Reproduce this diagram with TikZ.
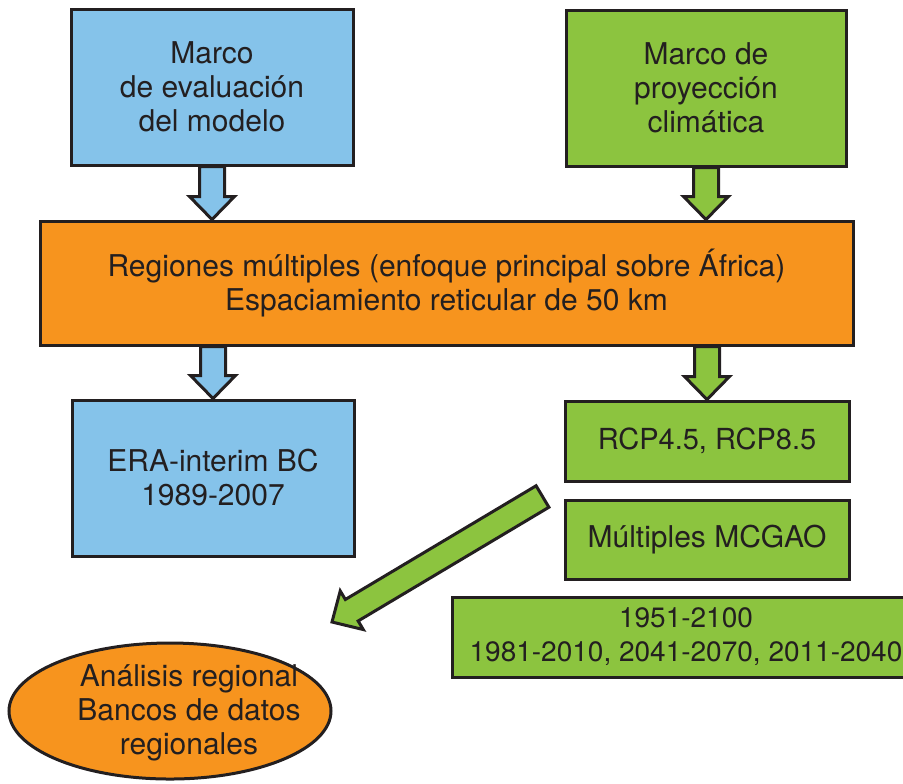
\documentclass[tikz,border=0pt]{standalone}
\usepackage{fontspec}
\setmainfont{TeX Gyre Heros}
\usetikzlibrary{calc}
\usetikzlibrary{positioning}
\usetikzlibrary{shapes.geometric}
\definecolor{azulcaja}{HTML}{85C3EA}
\definecolor{verdecaja}{HTML}{8CC43F}
\definecolor{naranjacaja}{HTML}{F7941E}
\definecolor{textogris}{HTML}{231F20}
\newcommand{\flechagruesa}[3]{%
  \path[draw=textogris,fill=#3,line width=1.5pt,line join=miter]
  let \p1=(#1), \p2=(#2), \n1={atan2(\y2-\y1,\x2-\x1)} in
  ($(\p1)+(\n1+90:6.25pt)$) -- ($(\p2)+(\n1+180:11.5pt)+(\n1+90:6.25pt)$)
  -- ($(\p2)+(\n1+180:11.5pt)+(\n1+90:11.25pt)$) -- (\p2)
  -- ($(\p2)+(\n1+180:11.5pt)+(\n1-90:11.25pt)$)
  -- ($(\p2)+(\n1+180:11.5pt)+(\n1-90:6.25pt)$)
  -- ($(\p1)+(\n1-90:6.25pt)$) -- cycle;}

\begin{document}
\begin{tikzpicture}[x=0.5pt,y=-0.5pt,
  caja/.style={rectangle,draw=textogris,line width=1.5pt,align=center,text=textogris,
    font=\fontsize{15}{17}\selectfont}]
\useasboundingbox (0,0) rectangle (903,783);
\clip (0,0) rectangle (903,783);
\path
(212,87) node(evaluacion) [caja,fill=azulcaja,minimum width=141pt,minimum height=78pt] {Marco\\de evaluación\\del modelo}
(706,88) node(proyeccion) [caja,fill=verdecaja,minimum width=140pt,minimum height=78pt] {Marco de\\proyección\\climática}
(446.5,283) node(regiones) [caja,fill=naranjacaja,minimum width=406.5pt,minimum height=62pt] {Regiones múltiples (enfoque principal sobre África)\\Espaciamiento reticular de 50 km}
(213,478) node(era) [caja,fill=azulcaja,minimum width=141pt,minimum height=78pt] {ERA-interim BC\\1989-2007}
(707,441) node(rcp) [caja,fill=verdecaja,minimum width=142pt,minimum height=40pt,font=\fontsize{14.5}{17}\selectfont] {RCP4.5, RCP8.5}
(707,539.5) node(mcgao) [caja,fill=verdecaja,minimum width=142pt,minimum height=39.5pt] {Múltiples MCGAO}
(686,637) node(periodos) [caja,fill=verdecaja,minimum width=234pt,minimum height=40pt,font=\fontsize{14}{17}\selectfont] {1951-2100\\1981-2010, 2041-2070, 2011-2040}
(170,711) node(analisis) [ellipse,draw=textogris,line width=1.5pt,fill=naranjacaja,minimum width=161pt,minimum height=68pt,inner sep=0pt] {};
\node(analisistexto) [align=center,text=textogris,font=\fontsize{15}{17}\selectfont] at ([xshift=9.5pt,yshift=-1pt]analisis.center) {Análisis regional\\Bancos de datos\\regionales};
\coordinate (colas) at (542.5,496.5);
\coordinate (punta) at (332,622);
\flechagruesa{evaluacion.south}{evaluacion.south |- regiones.north}{azulcaja}
\flechagruesa{proyeccion.south}{proyeccion.south |- regiones.north}{verdecaja}
\flechagruesa{era.north |- regiones.south}{era.north}{azulcaja}
\flechagruesa{rcp.north |- regiones.south}{rcp.north}{verdecaja}
\flechagruesa{colas}{punta}{verdecaja}
\end{tikzpicture}
\end{document}
